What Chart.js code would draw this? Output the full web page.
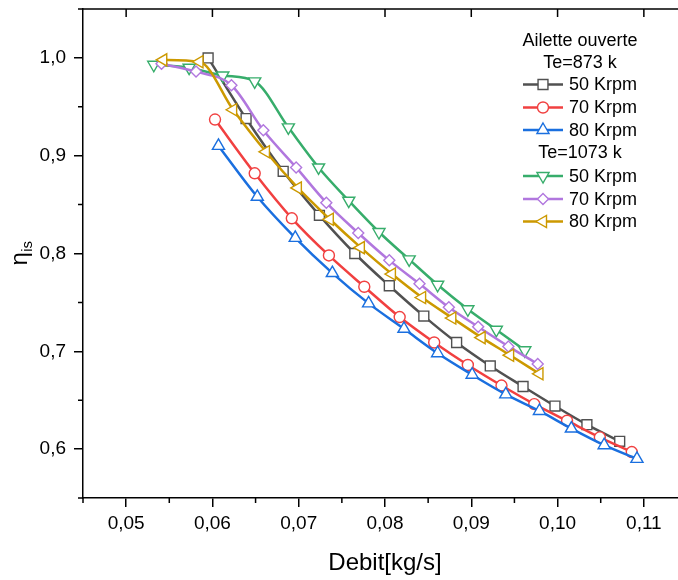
<!DOCTYPE html>
<html>
<head>
<meta charset="utf-8">
<script src="https://cdn.jsdelivr.net/npm/chart.js@4.4.1/dist/chart.umd.min.js"></script>
<style>
  html, body { margin: 0; padding: 0; overflow: hidden; background: #fff; width: 678px; height: 580px; }
  canvas { position: absolute; left: 0; top: 0; }
</style>
</head>
<body>
<canvas id="chart" width="700" height="580"></canvas>
<script>
// values
const xTicks = [0.05, 0.06, 0.07, 0.08, 0.09, 0.10, 0.11];
const yTicks = [0.6, 0.7, 0.8, 0.9, 1.0];

// Te = 873 k
const debit873_50 = [0.0595, 0.0639, 0.0682, 0.0724, 0.0765, 0.0805, 0.0845, 0.0883, 0.0922, 0.0960, 0.0997, 0.1034, 0.1072];
const eta873_50   = [1.000, 0.938, 0.884, 0.839, 0.800, 0.767, 0.736, 0.709, 0.685, 0.664, 0.644, 0.625, 0.608];
const debit873_70 = [0.0603, 0.0649, 0.0692, 0.0735, 0.0776, 0.0817, 0.0857, 0.0896, 0.0935, 0.0973, 0.1011, 0.1049, 0.1086];
const eta873_70   = [0.937, 0.882, 0.836, 0.798, 0.766, 0.735, 0.709, 0.686, 0.665, 0.646, 0.629, 0.612, 0.597];
const debit873_80 = [0.0607, 0.0652, 0.0696, 0.0739, 0.0781, 0.0822, 0.0861, 0.0901, 0.0940, 0.0979, 0.1016, 0.1054, 0.1092];
const eta873_80   = [0.910, 0.858, 0.816, 0.780, 0.749, 0.723, 0.698, 0.676, 0.656, 0.639, 0.621, 0.604, 0.590];

// Te = 1073 k
const debit1073_50 = [0.0532, 0.0573, 0.0612, 0.0649, 0.0688, 0.0723, 0.0758, 0.0793, 0.0828, 0.0861, 0.0896, 0.0929, 0.0962];
const eta1073_50   = [0.993, 0.990, 0.982, 0.976, 0.929, 0.888, 0.854, 0.822, 0.794, 0.768, 0.743, 0.722, 0.701];
const debit1073_70 = [0.0541, 0.0581, 0.0622, 0.0659, 0.0697, 0.0732, 0.0769, 0.0805, 0.0840, 0.0874, 0.0908, 0.0943, 0.0977];
const eta1073_70   = [0.994, 0.986, 0.972, 0.926, 0.888, 0.852, 0.821, 0.793, 0.769, 0.745, 0.725, 0.705, 0.687];
const debit1073_80 = [0.0543, 0.0585, 0.0624, 0.0662, 0.0699, 0.0736, 0.0772, 0.0808, 0.0843, 0.0878, 0.0912, 0.0945, 0.0979];
const eta1073_80   = [0.998, 0.996, 0.947, 0.904, 0.867, 0.835, 0.806, 0.779, 0.755, 0.734, 0.714, 0.696, 0.677];

const FONT = "'Liberation Sans', Arial, sans-serif";

function pts(xs, ys) {
  return xs.map((x, i) => ({ x: x, y: ys[i] }));
}

function series(label, xs, ys, color, style, radius, rotation, order) {
  return {
    label: label,
    data: pts(xs, ys),
    borderColor: color,
    borderWidth: 2.5,
    pointStyle: style,
    pointRadius: radius,
    pointRotation: rotation,
    pointBorderColor: color,
    pointBackgroundColor: '#fff',
    pointBorderWidth: 1.4,
    cubicInterpolationMode: 'monotone',
    fill: false,
    order: order
  };
}

const datasets = [
  series('50 Krpm', debit873_50, eta873_50, '#515151', 'rect', 7, 0, 6),
  series('70 Krpm', debit873_70, eta873_70, '#F14040', 'circle', 5.5, 0, 5),
  series('80 Krpm', debit873_80, eta873_80, '#1A6FDF', 'triangle', 7, 0, 4),
  series('50 Krpm', debit1073_50, eta1073_50, '#37AD6B', 'triangle', 7, 180, 3),
  series('70 Krpm', debit1073_70, eta1073_70, '#B177DE', 'rectRot', 5.5, 0, 2),
  series('80 Krpm', debit1073_80, eta1073_80, '#CC9900', 'triangle', 7, -90, 1)
];

// legend rows: titles and dataset samples
const legendRows = [
  { text: 'Ailette ouverte', y: 41 },
  { text: 'Te=873 k', y: 63 },
  { ds: 0, y: 84.5 },
  { ds: 1, y: 107.5 },
  { ds: 2, y: 130 },
  { text: 'Te=1073 k', y: 153 },
  { ds: 3, y: 176 },
  { ds: 4, y: 199 },
  { ds: 5, y: 221.5 }
];

const framePlugin = {
  id: 'frame',
  afterDraw(chart) {
    const ctx = chart.ctx;
    const a = chart.chartArea;
    const xs = chart.scales.x, ys = chart.scales.y;
    ctx.save();
    ctx.strokeStyle = '#000';
    ctx.lineWidth = 1.5;
    // top and right border
    ctx.beginPath();
    ctx.moveTo(a.left, a.top); ctx.lineTo(a.right, a.top); ctx.lineTo(a.right, a.bottom);
    ctx.stroke();
    ctx.beginPath();
    // minor ticks (outward) bottom / left
    for (let v = 0.045; v <= 0.1151; v += 0.01) {
      const px = xs.getPixelForValue(v);
      ctx.moveTo(px, a.bottom); ctx.lineTo(px, a.bottom + 5);
    }
    for (let v = 0.55; v <= 1.051; v += 0.1) {
      const py = ys.getPixelForValue(v);
      ctx.moveTo(a.left, py); ctx.lineTo(a.left - 5, py);
    }
    // major ticks (inward) top / right
    xTicks.forEach(v => {
      const px = xs.getPixelForValue(v);
      ctx.moveTo(px, a.top); ctx.lineTo(px, a.top + 8);
    });
    yTicks.forEach(v => {
      const py = ys.getPixelForValue(v);
      ctx.moveTo(a.right, py); ctx.lineTo(a.right - 9, py);
    });
    ctx.stroke();

    // axis titles
    ctx.fillStyle = '#000';
    ctx.textAlign = 'center';
    ctx.textBaseline = 'middle';
    ctx.font = '24px ' + FONT;
    ctx.fillText('Debit[kg/s]', (a.left + a.right) / 2, 563);

    ctx.translate(23, (a.top + a.bottom) / 2);
    ctx.rotate(-Math.PI / 2);
    ctx.textAlign = 'left';
    ctx.textBaseline = 'alphabetic';
    ctx.font = '24px ' + FONT;
    const wEta = ctx.measureText('η').width;
    ctx.font = '15px ' + FONT;
    const wSub = ctx.measureText('is').width;
    const x0 = -(wEta + wSub) / 2;
    ctx.font = '24px ' + FONT;
    ctx.fillText('η', x0, 4);
    ctx.font = '15px ' + FONT;
    ctx.fillText('is', x0 + wEta + 0.5, 9);
    ctx.restore();

    // legend
    ctx.save();
    ctx.font = '18px ' + FONT;
    ctx.fillStyle = '#000';
    ctx.textBaseline = 'middle';
    legendRows.forEach(r => {
      if (r.text) {
        ctx.textAlign = 'center';
        ctx.fillText(r.text, 580, r.y);
      } else {
        const d = chart.data.datasets[r.ds];
        ctx.strokeStyle = d.borderColor;
        ctx.lineWidth = 2.5;
        ctx.beginPath();
        ctx.moveTo(523, r.y); ctx.lineTo(563, r.y);
        ctx.stroke();
        ctx.fillStyle = '#fff';
        ctx.strokeStyle = d.pointBorderColor;
        ctx.lineWidth = d.pointBorderWidth;
        Chart.helpers.drawPoint(ctx, {
          pointStyle: d.pointStyle,
          radius: d.pointRadius,
          rotation: d.pointRotation,
          borderWidth: d.pointBorderWidth
        }, 543, r.y);
        ctx.fillStyle = '#000';
        ctx.textAlign = 'left';
        ctx.fillText(d.label, 569, r.y + 1);
      }
    });
    ctx.restore();
  }
};

// keep the plot frame where the reference has it (no label overhang padding)
function noPad(s) {
  s.paddingTop = 0; s.paddingBottom = 0; s.paddingLeft = 0; s.paddingRight = 0;
}

new Chart(document.getElementById('chart'), {
  type: 'line',
  data: { datasets: datasets },
  options: {
    responsive: false,
    animation: false,
    devicePixelRatio: 1,
    layout: { padding: { left: 0, top: 9, right: 13, bottom: 0 } },
    plugins: { legend: { display: false }, tooltip: { enabled: false } },
    scales: {
      x: {
        type: 'linear',
        min: 0.045,
        max: 0.115,
        afterFit: s => { s.height = 82; noPad(s); },
        afterBuildTicks: s => { s.ticks = xTicks.map(v => ({ value: v })); },
        ticks: {
          callback: v => v.toFixed(2).replace('.', ','),
          font: { family: FONT, size: 19 },
          color: '#000',
          padding: 5,
          maxRotation: 0,
          autoSkip: false
        },
        grid: { drawOnChartArea: false, tickLength: 9, color: '#000', lineWidth: 1.5 },
        border: { color: '#000', width: 1.5 }
      },
      y: {
        type: 'linear',
        min: 0.55,
        max: 1.05,
        afterFit: s => { s.width = 83; noPad(s); },
        afterBuildTicks: s => { s.ticks = yTicks.map(v => ({ value: v })); },
        ticks: {
          callback: v => v.toFixed(1).replace('.', ','),
          font: { family: FONT, size: 19 },
          color: '#000',
          padding: 8
        },
        grid: { drawOnChartArea: false, tickLength: 9, color: '#000', lineWidth: 1.5 },
        border: { color: '#000', width: 1.5 }
      }
    }
  },
  plugins: [framePlugin]
});
</script>
</body>
</html>
